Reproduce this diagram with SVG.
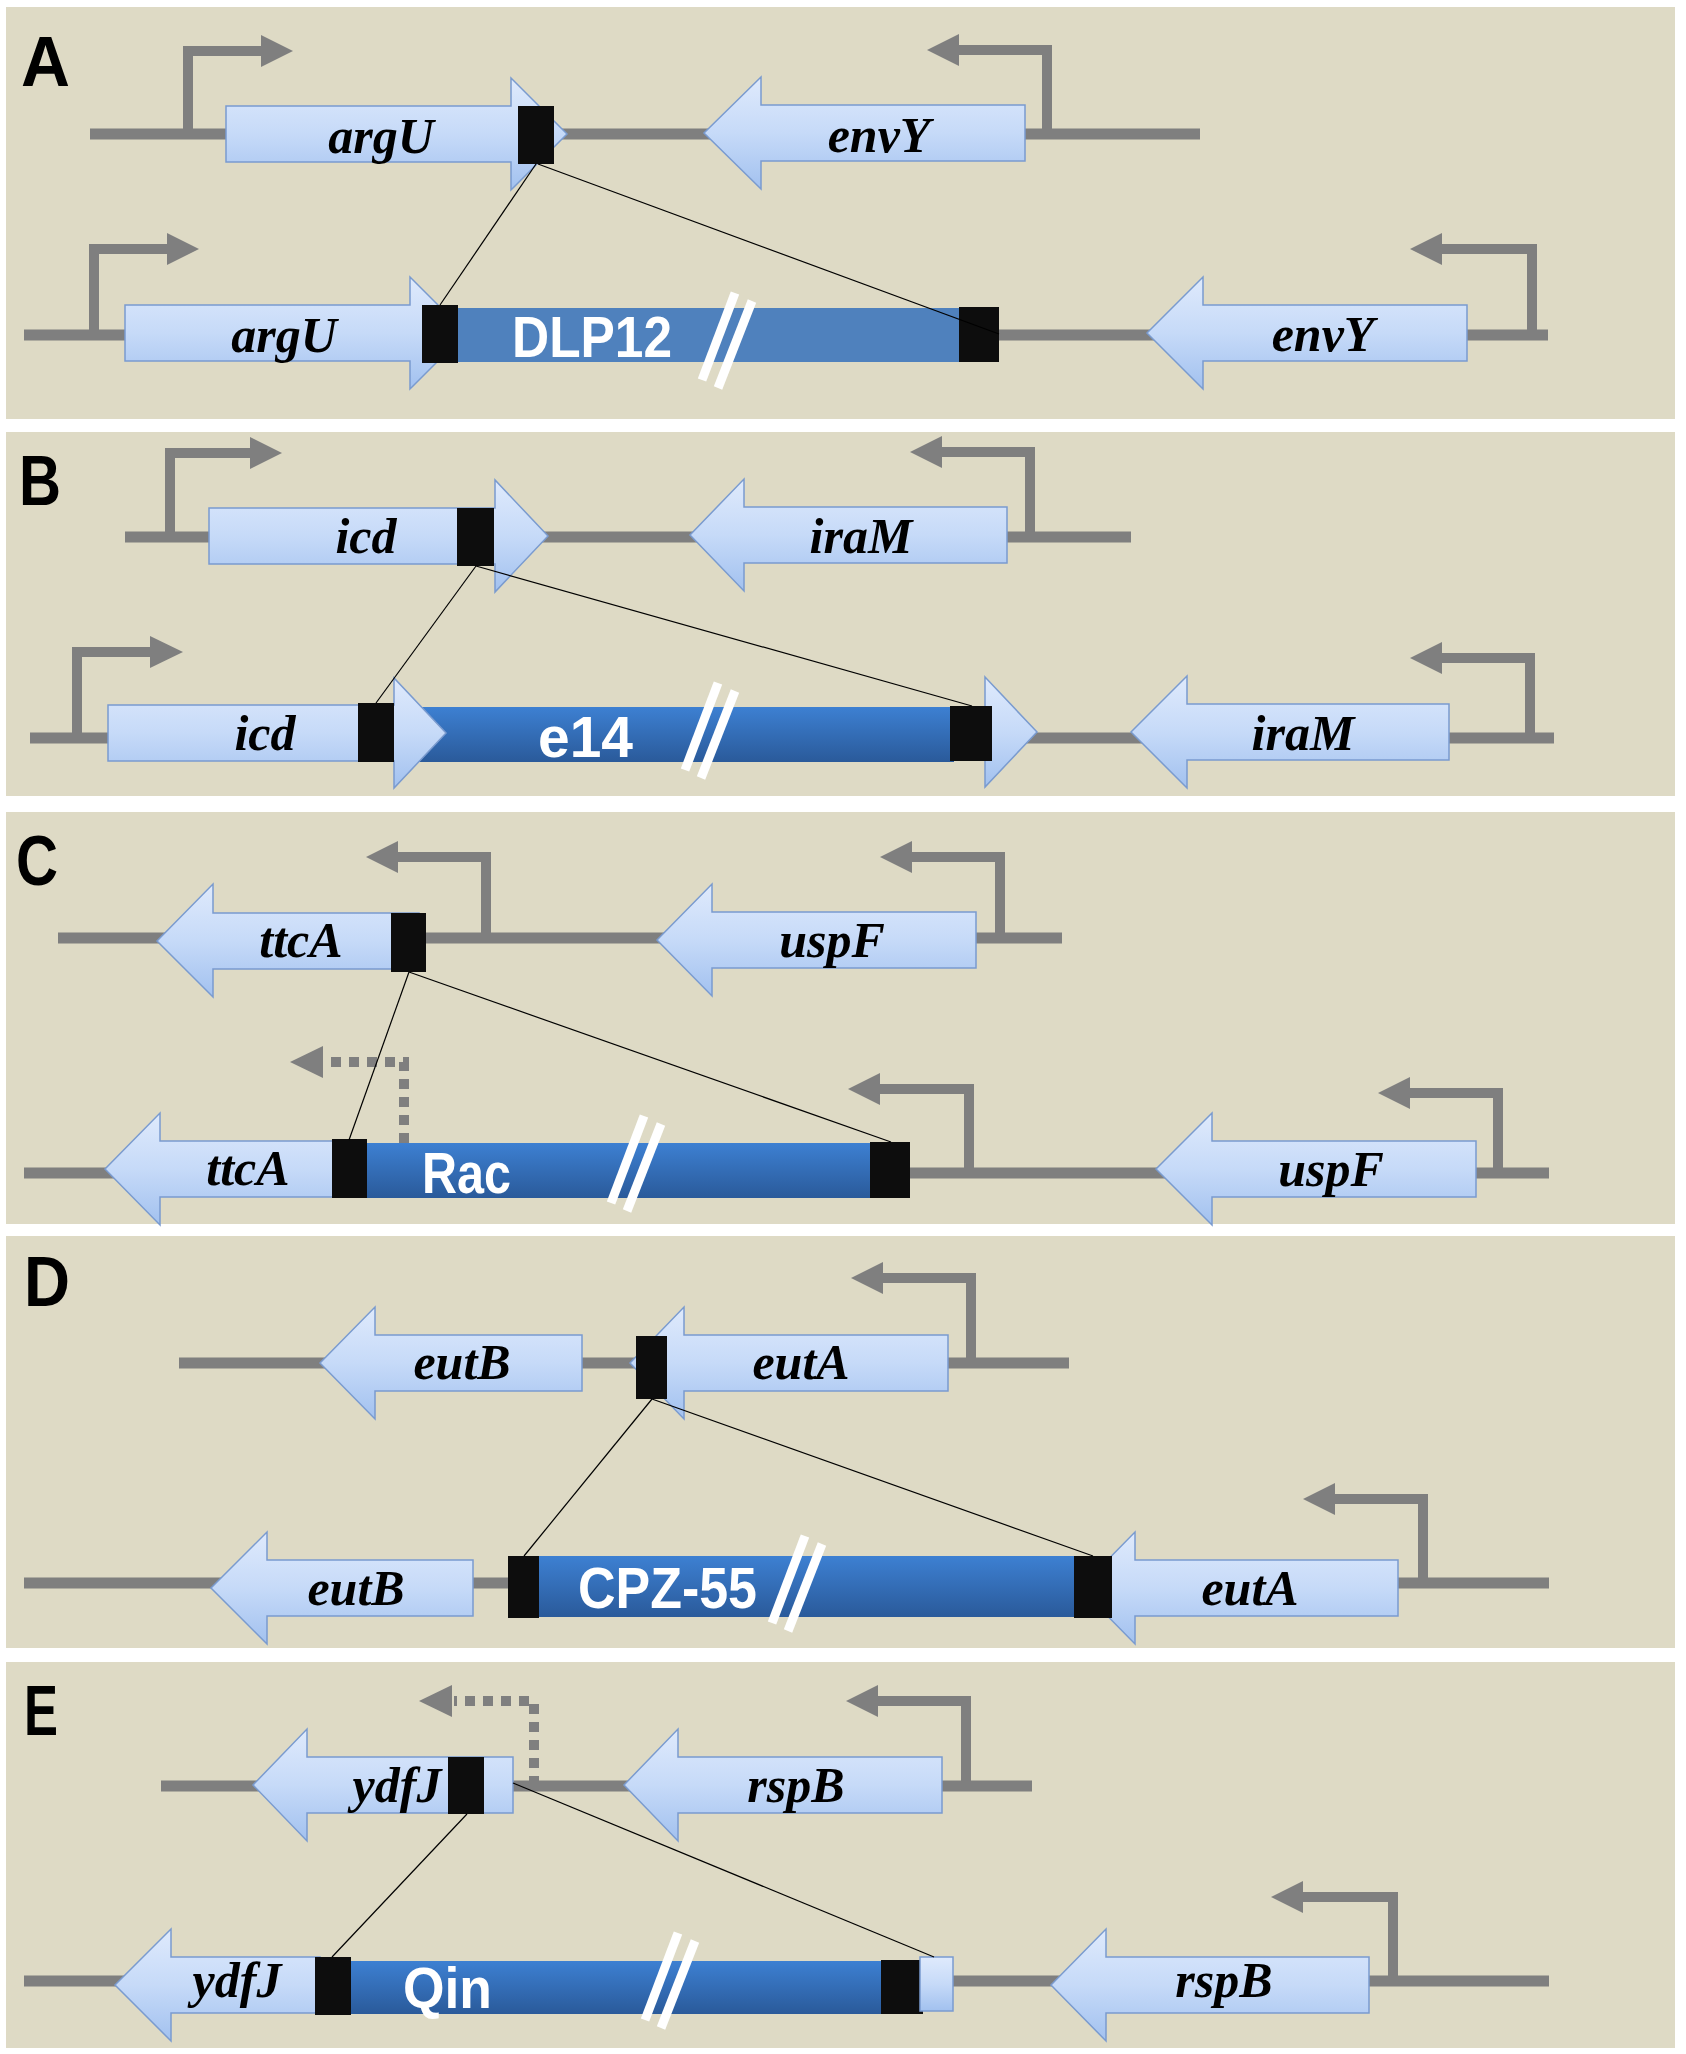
<svg xmlns="http://www.w3.org/2000/svg" width="1686" height="2054" viewBox="0 0 1686 2054">
<defs>
<linearGradient id="gg" x1="0" y1="0" x2="0" y2="1">
<stop offset="0" stop-color="#DFEAFC"/>
<stop offset="0.5" stop-color="#C6DAF8"/>
<stop offset="1" stop-color="#A2C1EF"/>
</linearGradient>
<linearGradient id="bg" x1="0" y1="0" x2="0" y2="1">
<stop offset="0" stop-color="#3D80D2"/>
<stop offset="1" stop-color="#2A5A9A"/>
</linearGradient>
<g id="brk">
<line x1="-26" y1="40" x2="7" y2="-47"/>
<line x1="-10" y1="48" x2="24" y2="-39"/>
</g>
</defs>
<style>
.panel{fill:#DEDAC5}
.dna{stroke:#7F7F7F;stroke-width:11;fill:none}
.pr{stroke:#7F7F7F;stroke-width:10;fill:none}
.prd{stroke:#7F7F7F;stroke-width:10;fill:none;stroke-dasharray:10 8}
.ah{fill:#7F7F7F}
.gene{fill:url(#gg);stroke:#7A9BCF;stroke-width:1.5}
.att{fill:#0D0D0D}
.bar{fill:url(#bg)}
.barA{fill:#4F81BD}
.brk{stroke:#FFFFFF;stroke-width:9}
.gl{font-family:"Liberation Serif",serif;font-weight:bold;font-style:italic;font-size:50px;fill:#000;text-anchor:middle}
.pl{font-family:"Liberation Sans",sans-serif;font-weight:bold;font-size:70px;fill:#000}
.bl{font-family:"Liberation Sans",sans-serif;font-weight:bold;font-size:58px;fill:#FFFFFF}
.cn{stroke:#000;stroke-width:1.2;fill:none}
</style>
<rect width="1686" height="2054" fill="#FFFFFF"/>
<g id="panels">
<rect class="panel" x="6" y="7" width="1669" height="412"/>
<rect class="panel" x="6" y="432" width="1669" height="364"/>
<rect class="panel" x="6" y="812" width="1669" height="412"/>
<rect class="panel" x="6" y="1236" width="1669" height="412"/>
<rect class="panel" x="6" y="1662" width="1669" height="386"/>
</g>
<g id="labels">
<text class="pl" x="21" y="86" textLength="49" lengthAdjust="spacingAndGlyphs">A</text>
<text class="pl" x="19" y="505" textLength="42" lengthAdjust="spacingAndGlyphs">B</text>
<text class="pl" x="16" y="885" textLength="42" lengthAdjust="spacingAndGlyphs">C</text>
<text class="pl" x="24" y="1306" textLength="46" lengthAdjust="spacingAndGlyphs">D</text>
<text class="pl" x="24" y="1735" textLength="34" lengthAdjust="spacingAndGlyphs">E</text>
</g>
<g id="dna">
<line class="dna" x1="90" y1="134" x2="1200" y2="134"/>
<line class="dna" x1="24" y1="335" x2="1548" y2="335"/>
<line class="dna" x1="125" y1="537" x2="1131" y2="537"/>
<line class="dna" x1="30" y1="738" x2="1554" y2="738"/>
<line class="dna" x1="58" y1="938" x2="1062" y2="938"/>
<line class="dna" x1="24" y1="1173" x2="1549" y2="1173"/>
<line class="dna" x1="179" y1="1363" x2="1069" y2="1363"/>
<line class="dna" x1="24" y1="1583" x2="1549" y2="1583"/>
<line class="dna" x1="161" y1="1786" x2="1032" y2="1786"/>
<line class="dna" x1="24" y1="1981" x2="1549" y2="1981"/>
</g>
<g id="promoters">
<path class="pr" d="M188,134 V51 H263"/><polygon class="ah" points="261,35 293,51 261,67"/>
<path class="pr" d="M1047,134 V50 H957"/><polygon class="ah" points="959,34 927,50 959,66"/>
<path class="pr" d="M94,335 V249 H169"/><polygon class="ah" points="167,233 199,249 167,265"/>
<path class="pr" d="M1532,335 V249 H1440"/><polygon class="ah" points="1442,233 1410,249 1442,265"/>
<path class="pr" d="M170,537 V453 H252"/><polygon class="ah" points="250,437 282,453 250,469"/>
<path class="pr" d="M1030,537 V452 H940"/><polygon class="ah" points="942,436 910,452 942,468"/>
<path class="pr" d="M77,738 V652 H152"/><polygon class="ah" points="150,636 183,652 150,668"/>
<path class="pr" d="M1530,738 V658 H1440"/><polygon class="ah" points="1442,642 1410,658 1442,674"/>
<path class="pr" d="M486,938 V857 H396"/><polygon class="ah" points="398,841 366,857 398,873"/>
<path class="pr" d="M1000,938 V857 H910"/><polygon class="ah" points="912,841 880,857 912,873"/>
<path class="prd" d="M404,1143 V1062 H325"/><polygon class="ah" points="323,1046 290,1062 323,1078"/>
<path class="pr" d="M969,1173 V1089 H878"/><polygon class="ah" points="880,1073 848,1089 880,1105"/>
<path class="pr" d="M1498,1173 V1093 H1408"/><polygon class="ah" points="1410,1077 1378,1093 1410,1109"/>
<path class="pr" d="M971,1363 V1278 H881"/><polygon class="ah" points="883,1262 851,1278 883,1294"/>
<path class="pr" d="M1423,1583 V1499 H1333"/><polygon class="ah" points="1335,1483 1303,1499 1335,1515"/>
<path class="prd" d="M534,1786 V1701 H454"/><polygon class="ah" points="452,1685 419,1701 452,1717"/>
<path class="pr" d="M966,1786 V1701 H876"/><polygon class="ah" points="878,1685 846,1701 878,1717"/>
<path class="pr" d="M1393,1981 V1897 H1301"/><polygon class="ah" points="1303,1881 1271,1897 1303,1913"/>
</g>
<!-- Panel A -->
<g id="A-argU-top"><path class="gene" d="M226,106 H511 V78 L567,134 L511,190 V162 H226 Z"/><rect class="att" x="518" y="106" width="36" height="58"/><text class="gl" x="381" y="153">argU</text></g>
<g id="A-envY-top"><path class="gene" d="M1025,105 H761 V77 L704,133 L761,189 V161 H1025 Z"/><text class="gl" x="879" y="152">envY</text></g>
<g id="A-argU-bot"><path class="gene" d="M125,305 H410 V277 L466,333 L410,389 V361 H125 Z"/><text class="gl" x="284" y="352">argU</text></g>
<g id="A-DLP12"><rect class="barA" x="458" y="308" width="501" height="54"/><rect class="att" x="422" y="305" width="36" height="58"/><rect class="att" x="959" y="307" width="40" height="55"/><text class="bl" x="512" y="357" textLength="160" lengthAdjust="spacingAndGlyphs">DLP12</text><use href="#brk" class="brk" transform="translate(728,340)"/></g>
<g id="A-envY-bot"><path class="gene" d="M1467,305 H1203 V277 L1147,333 L1203,389 V361 H1467 Z"/><text class="gl" x="1323" y="351">envY</text></g>
<!-- Panel B -->
<g id="B-icd-top"><path class="gene" d="M209,508 H495 V480 L548,536 L495,592 V564 H209 Z"/><rect class="att" x="457" y="508" width="37" height="58"/><text class="gl" x="366" y="553">icd</text></g>
<g id="B-iraM-top"><path class="gene" d="M1007,507 H744 V479 L690,535 L744,591 V563 H1007 Z"/><text class="gl" x="861" y="553">iraM</text></g>
<g id="B-e14"><rect class="bar" x="394" y="707" width="560" height="55"/><path class="gene" d="M985,677 L1037,732 L985,787 Z"/><rect class="att" x="950" y="706" width="42" height="55"/><text class="bl" x="538" y="757" textLength="95" lengthAdjust="spacingAndGlyphs">e14</text><use href="#brk" class="brk" transform="translate(711,730)"/></g>
<g id="B-icd-bot"><path class="gene" d="M108,705 H394 V678 L446,733 L394,788 V761 H108 Z"/><rect class="att" x="358" y="703" width="36" height="59"/><text class="gl" x="265" y="750">icd</text></g>
<g id="B-iraM-bot"><path class="gene" d="M1449,704 H1187 V676 L1131,732 L1187,788 V760 H1449 Z"/><text class="gl" x="1303" y="750">iraM</text></g>
<!-- Panel C -->
<g id="C-ttcA-top"><path class="gene" d="M419,913 H213 V884 L157,941 L213,997 V969 H419 Z"/><rect class="att" x="391" y="913" width="35" height="59"/><text class="gl" x="301" y="957">ttcA</text></g>
<g id="C-uspF-top"><path class="gene" d="M976,912 H712 V884 L657,940 L712,996 V968 H976 Z"/><text class="gl" x="832" y="957">uspF</text></g>
<g id="C-ttcA-bot"><path class="gene" d="M340,1141 H160 V1113 L105,1169 L160,1225 V1197 H340 Z"/><text class="gl" x="248" y="1185">ttcA</text></g>
<g id="C-Rac"><rect class="bar" x="367" y="1143" width="503" height="55"/><rect class="att" x="332" y="1139" width="35" height="59"/><rect class="att" x="870" y="1142" width="40" height="56"/><text class="bl" x="422" y="1193" textLength="89" lengthAdjust="spacingAndGlyphs">Rac</text><use href="#brk" class="brk" transform="translate(637,1163)"/></g>
<g id="C-uspF-bot"><path class="gene" d="M1476,1141 H1212 V1113 L1156,1169 L1212,1225 V1197 H1476 Z"/><text class="gl" x="1331" y="1186">uspF</text></g>
<!-- Panel D -->
<g id="D-eutB-top"><path class="gene" d="M582,1335 H375 V1307 L320,1363 L375,1419 V1391 H582 Z"/><text class="gl" x="462" y="1379">eutB</text></g>
<g id="D-eutA-top"><path class="gene" d="M948,1335 H684 V1307 L630,1363 L684,1419 V1391 H948 Z"/><rect class="att" x="636" y="1336" width="31" height="63"/><text class="gl" x="801" y="1379">eutA</text></g>
<g id="D-eutB-bot"><path class="gene" d="M473,1560 H267 V1532 L211,1588 L267,1644 V1616 H473 Z"/><text class="gl" x="356" y="1605">eutB</text></g>
<g id="D-eutA-bot"><path class="gene" d="M1398,1560 H1135 V1532 L1080,1588 L1135,1644 V1616 H1398 Z"/><text class="gl" x="1250" y="1605">eutA</text></g>
<g id="D-CPZ55"><rect class="bar" x="539" y="1556" width="535" height="61"/><rect class="att" x="508" y="1556" width="31" height="62"/><rect class="att" x="1074" y="1556" width="38" height="62"/><text class="bl" x="578" y="1608" textLength="179" lengthAdjust="spacingAndGlyphs">CPZ-55</text><use href="#brk" class="brk" transform="translate(798,1583)"/></g>
<!-- Panel E -->
<g id="E-ydfJ-top"><path class="gene" d="M513,1757 H307 V1729 L253,1785 L307,1841 V1813 H513 Z"/><rect class="att" x="448" y="1757" width="36" height="57"/><text class="gl" x="397" y="1802">ydfJ</text></g>
<g id="E-rspB-top"><path class="gene" d="M942,1757 H678 V1729 L624,1785 L678,1841 V1813 H942 Z"/><text class="gl" x="796" y="1802">rspB</text></g>
<g id="E-ydfJ-bot"><path class="gene" d="M320,1957 H171 V1929 L115,1985 L171,2041 V2013 H320 Z"/><text class="gl" x="237" y="1997">ydfJ</text></g>
<g id="E-Qin"><rect class="bar" x="351" y="1961" width="530" height="53"/><rect class="att" x="315" y="1957" width="36" height="58"/><rect class="att" x="881" y="1960" width="42" height="54"/><rect class="gene" x="920" y="1957" width="33" height="54"/><text class="bl" x="403" y="2008" textLength="89" lengthAdjust="spacingAndGlyphs">Qin</text><use href="#brk" class="brk" transform="translate(671,1980)"/></g>
<g id="E-rspB-bot"><path class="gene" d="M1369,1957 H1106 V1929 L1051,1985 L1106,2041 V2013 H1369 Z"/><text class="gl" x="1224" y="1997">rspB</text></g>
<g id="connectors">
<line class="cn" x1="536" y1="164" x2="440" y2="305"/>
<line class="cn" x1="538" y1="164" x2="999" y2="334"/>
<line class="cn" x1="476" y1="566" x2="376" y2="703"/>
<line class="cn" x1="476" y1="566" x2="972" y2="706"/>
<line class="cn" x1="409" y1="972" x2="349" y2="1140"/>
<line class="cn" x1="409" y1="972" x2="891" y2="1142"/>
<line class="cn" x1="652" y1="1399" x2="524" y2="1556"/>
<line class="cn" x1="652" y1="1399" x2="1093" y2="1556"/>
<line class="cn" x1="467" y1="1814" x2="332" y2="1957"/>
<line class="cn" x1="513" y1="1783" x2="934" y2="1957"/>
</g>
</svg>
